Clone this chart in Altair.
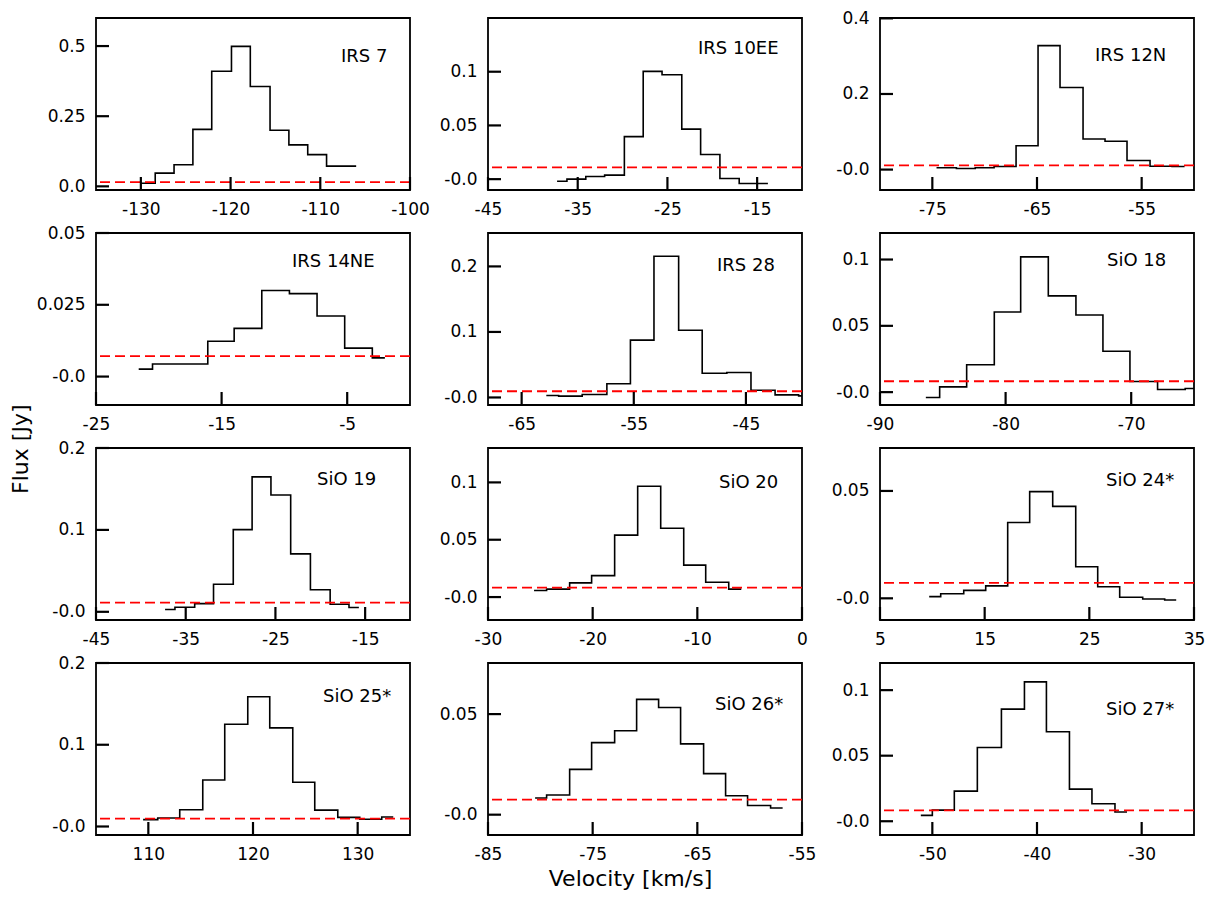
import altair as alt
import pandas as pd

# ---------------- data (channel edges in km/s, flux per channel in Jy) ----------------
names = ["IRS 7", "IRS 10EE", "IRS 12N", "IRS 14NE", "IRS 28", "SiO 18",
         "SiO 19", "SiO 20", "SiO 24*", "SiO 25*", "SiO 26*", "SiO 27*"]

irs7_vel = [-130.0, -128.4, -126.3, -124.2, -122.1, -119.9, -117.8, -115.6, -113.5, -111.4, -109.3, -106.0]
irs7_flux = [0.011, 0.047, 0.077, 0.203, 0.410, 0.499, 0.356, 0.200, 0.148, 0.113, 0.072]

irs10ee_vel = [-37.3, -36.2, -34.1, -32.0, -29.8, -27.7, -25.6, -23.4, -21.3, -19.15, -17.0, -13.8]
irs10ee_flux = [-0.002, 0.000, 0.0025, 0.0037, 0.0396, 0.1003, 0.0972, 0.0466, 0.023, 0.0006, -0.004]

irs12n_vel = [-74.6, -72.7, -70.9, -69.1, -67.0, -64.9, -62.8, -60.6, -58.5, -56.4, -54.2, -52.1, -50.9]
irs12n_flux = [0.005, 0.003, 0.005, 0.008, 0.063, 0.328, 0.217, 0.081, 0.075, 0.024, 0.009, 0.008]

irs14ne_vel = [-21.6, -20.5, -18.3, -16.1, -14.0, -11.8, -9.6, -7.4, -5.2, -3.0, -2.0]
irs14ne_flux = [0.0026, 0.0044, 0.0044, 0.0123, 0.0168, 0.0300, 0.0289, 0.0211, 0.0099, 0.0065]

irs28_vel = [-62.8, -61.7, -59.6, -57.4, -55.3, -53.2, -51.0, -48.9, -46.7, -44.55, -42.4, -40.3, -40.0]
irs28_flux = [0.003, 0.002, 0.0045, 0.021, 0.0875, 0.2155, 0.1025, 0.037, 0.038, 0.011, 0.004, 0.0025]

sio18_vel = [-86.35, -85.25, -83.1, -80.9, -78.8, -76.6, -74.4, -72.25, -70.1, -67.9, -65.7, -64.9]
sio18_flux = [-0.004, 0.004, 0.0206, 0.0604, 0.102, 0.0726, 0.0582, 0.0308, 0.008, 0.002, 0.0027]

sio19_vel = [-37.3, -36.2, -34.0, -31.9, -29.7, -27.6, -25.5, -23.3, -21.1, -18.9, -16.8, -15.7]
sio19_flux = [0.0028, 0.0056, 0.010, 0.0337, 0.1004, 0.1647, 0.1426, 0.0707, 0.0269, 0.0092, 0.0052]

sio20_vel = [-25.6, -24.4, -22.2, -20.1, -17.9, -15.7, -13.5, -11.3, -9.2, -7.0, -5.8]
sio20_flux = [0.0057, 0.0069, 0.0124, 0.0187, 0.054, 0.0966, 0.060, 0.0279, 0.0129, 0.0069]

sio24_vel = [9.7, 10.8, 13.0, 15.1, 17.2, 19.3, 21.5, 23.7, 25.8, 27.9, 30.1, 32.2, 33.3]
sio24_flux = [0.0008, 0.0021, 0.0037, 0.0058, 0.0353, 0.0497, 0.0428, 0.0147, 0.0054, 0.0005, -0.0003, -0.0008]

sio25_vel = [109.5, 110.9, 113.0, 115.2, 117.3, 119.5, 121.6, 123.8, 125.9, 128.1, 130.2, 132.3, 133.4]
sio25_flux = [0.0084, 0.0104, 0.0204, 0.0569, 0.125, 0.1587, 0.1206, 0.0541, 0.020, 0.0112, 0.0088, 0.0116]

sio26_vel = [-80.5, -79.4, -77.2, -75.1, -72.9, -70.8, -68.7, -66.6, -64.4, -62.3, -60.2, -58.0, -56.85]
sio26_flux = [0.0083, 0.0098, 0.0225, 0.0358, 0.0417, 0.0573, 0.0533, 0.0352, 0.0204, 0.0094, 0.0046, 0.0033]

sio27_vel = [-51.1, -50.0, -47.9, -45.7, -43.4, -41.2, -39.1, -36.9, -34.75, -32.55, -31.4]
sio27_flux = [0.0045, 0.0085, 0.023, 0.0563, 0.0855, 0.1063, 0.0683, 0.0245, 0.0133, 0.007]

# rms levels (red dashed lines)
rms_levels = [0.015, 0.011, 0.011, 0.0071, 0.0095, 0.0082, 0.0112, 0.0083, 0.0072, 0.0096, 0.0075, 0.0083]

velocities = [irs7_vel, irs10ee_vel, irs12n_vel, irs14ne_vel, irs28_vel, sio18_vel,
              sio19_vel, sio20_vel, sio24_vel, sio25_vel, sio26_vel, sio27_vel]
fluxes = [irs7_flux, irs10ee_flux, irs12n_flux, irs14ne_flux, irs28_flux, sio18_flux,
          sio19_flux, sio20_flux, sio24_flux, sio25_flux, sio26_flux, sio27_flux]

# axis ranges and tick labels
x_domains = [[-135, -100], [-45, -10], [-80, -50], [-25, 0], [-68, -40], [-90, -65],
             [-45, -10], [-30, 0], [5, 35], [105, 135], [-85, -55], [-55, -25]]
y_domains = [[-0.013, 0.6], [-0.0101, 0.15], [-0.054, 0.401], [-0.0099, 0.05], [-0.0115, 0.251], [-0.0097, 0.12],
             [-0.01, 0.2], [-0.02, 0.13], [-0.0101, 0.07], [-0.0104, 0.2], [-0.0101, 0.0754], [-0.0105, 0.1207]]
x_ticks = [[-130, -120, -110, -100], [-45, -35, -25, -15], [-75, -65, -55], [-25, -15, -5],
           [-65, -55, -45], [-90, -80, -70], [-45, -35, -25, -15], [-30, -20, -10, 0],
           [5, 15, 25, 35], [110, 120, 130], [-85, -75, -65, -55], [-50, -40, -30]]
y_ticks = [[0, 0.25, 0.5], [0, 0.05, 0.1], [0, 0.2, 0.4], [0, 0.025, 0.05], [0, 0.1, 0.2], [0, 0.05, 0.1],
           [0, 0.1, 0.2], [0, 0.05, 0.1], [0, 0.05], [0, 0.1, 0.2], [0, 0.05], [0, 0.05, 0.1]]
zero_labels = ["0.0"] + ["-0.0"] * 11

# layout (pixels): label position inside each panel
label_pos = [(245, 39), (210, 31), (215, 38), (196, 28.5), (229, 32.5), (227, 27.5),
             (221, 32), (231, 35), (226, 33), (227, 33.5), (227, 42), (226, 47)]

W, H = 314, 172
FONT = "DejaVu Sans"


def make_panel(i):
    flux = fluxes[i]
    line_df = pd.DataFrame({"v": velocities[i], "f": list(flux) + [flux[-1]]})
    xs = alt.Scale(domain=x_domains[i], nice=False, zero=False)
    ys = alt.Scale(domain=y_domains[i], nice=False, zero=False)
    xaxis = alt.Axis(
        values=x_ticks[i],
        labelExpr="datum.value < 0 ? '-' + format(-datum.value, 'd') : format(datum.value, 'd')",
        titleX=142, titlePadding=6,
    )
    yaxis = alt.Axis(
        values=y_ticks[i],
        labelExpr="datum.value == 0 ? '%s' : format(datum.value, '~g')" % zero_labels[i],
    )
    xtitle = "Velocity [km/s]" if i == 10 else None
    X = alt.X("v:Q", scale=xs, axis=xaxis, title=xtitle)
    Y = alt.Y("f:Q", scale=ys, axis=yaxis, title=None)

    line = alt.Chart(line_df).mark_line(
        interpolate="step-after", color="black", strokeWidth=1.6, clip=True
    ).encode(x=X, y=Y)

    rms = alt.Chart(pd.DataFrame({"f": [rms_levels[i]]})).mark_rule(
        color="#ff0000", strokeDash=[10, 5], strokeWidth=1.8
    ).encode(y=Y)

    xt = alt.Chart(pd.DataFrame({"v": x_ticks[i]})).mark_rule(
        color="black", strokeWidth=2.2
    ).encode(x=X, y=alt.value(H), y2=alt.value(H - 13))

    yt = alt.Chart(pd.DataFrame({"f": y_ticks[i]})).mark_rule(
        color="black", strokeWidth=2.2
    ).encode(y=Y, x=alt.value(0), x2=alt.value(13))

    lx, ly = label_pos[i]
    txt = alt.Chart(pd.DataFrame({"t": [names[i]]})).mark_text(
        align="left", baseline="middle", fontSize=18, font=FONT, color="black"
    ).encode(text="t:N", x=alt.value(lx), y=alt.value(ly))

    return alt.layer(line, rms, xt, yt, txt).properties(width=W, height=H)


panels = [make_panel(i) for i in range(12)]

chart = alt.concat(
    *panels, columns=3, spacing=alt.RowColnumber(row=43, column=78), bounds="flush"
).properties(
    title=alt.TitleParams(
        text="Flux [Jy]", orient="left", anchor="middle", fontSize=22,
        font=FONT, fontWeight="normal", color="black", offset=2,
    ),
    padding={"left": 2, "top": 0, "right": 5, "bottom": 0},
    background="white",
).configure_view(
    stroke="black", strokeWidth=1.8
).configure_axis(
    labelFont=FONT, labelFontSize=17, labelColor="black", labelPadding=11,
    labelFlush=False, labelOverlap=False, domain=False, ticks=False, tickSize=0, grid=False,
    titleFont=FONT, titleFontSize=22, titleFontWeight="normal", titleColor="black",
)

chart.save("out.html", embed_options={"renderer": "svg", "actions": False})
